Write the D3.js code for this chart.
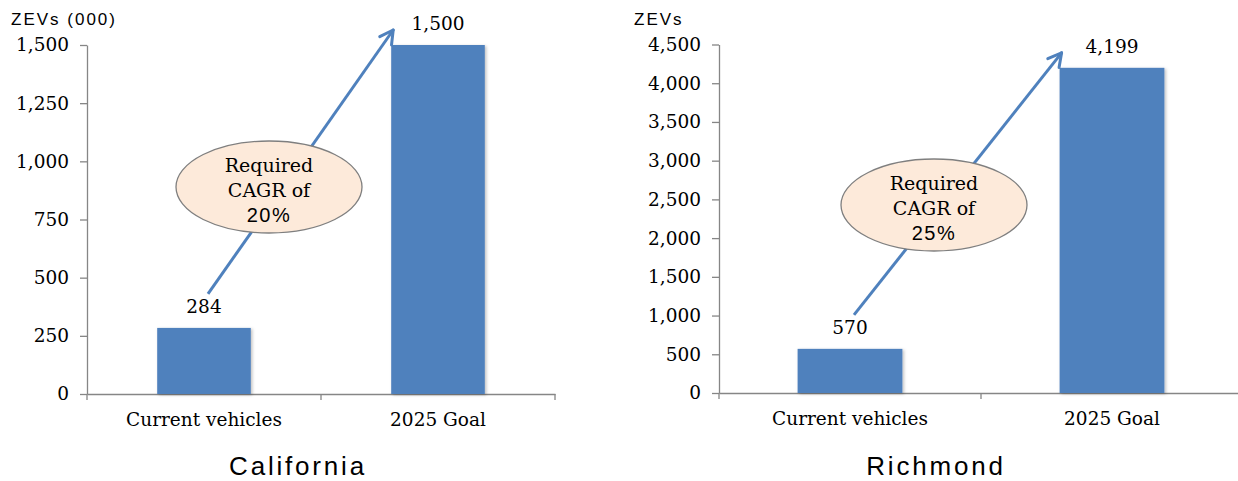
<!DOCTYPE html>
<html>
<head>
<meta charset="utf-8">
<script src="https://cdn.jsdelivr.net/npm/d3@7"></script>
<style>
  body { margin: 0; background: #fff; }
  svg { display: block; }
</style>
</head>
<body>
<div id="chart"></div>
<script>
// Chart data
const categories = ["Current vehicles", "2025 Goal"];
const californiaValues = [284, 1500];
const richmondValues = [570, 4199];
const californiaTicks = [0, 250, 500, 750, 1000, 1250, 1500];
const richmondTicks = [0, 500, 1000, 1500, 2000, 2500, 3000, 3500, 4000, 4500];
const panelTitles = ["California", "Richmond"];
const unitLabels = ["ZEVs (000)", "ZEVs"];
const cagrLabels = ["20%", "25%"];

const svg = d3.select("#chart")
  .append("svg")
  .attr("width", 1238)
  .attr("height", 481);

// soft shadow like the office bars
const defs = svg.append("defs");
defs.append("filter")
  .attr("id", "shadow")
  .attr("x", "-10%").attr("y", "-10%")
  .attr("width", "130%").attr("height", "130%")
  .append("feDropShadow")
  .attr("dx", 1.5).attr("dy", 1)
  .attr("stdDeviation", 1.5)
  .attr("flood-color", "#000")
  .attr("flood-opacity", 0.25);

const serif = "'DejaVu Serif', serif";
const sans = "'Liberation Sans', Arial, sans-serif";
const axisColor = "#868686";
const barColor = "#4F81BD";

function drawPanel(opts) {
  const g = svg.append("g");

  const x = d3.scaleBand()
    .domain(categories)
    .range([opts.left, opts.right])
    .padding(0);

  const y = d3.scaleLinear()
    .domain([0, d3.max(opts.ticks)])
    .range([opts.bottom, opts.top]);

  // y axis
  const yAxis = g.append("g")
    .attr("transform", `translate(${opts.left},0)`)
    .call(d3.axisLeft(y)
      .tickValues(opts.ticks)
      .tickFormat(d3.format(","))
      .tickSize(7)
      .tickSizeOuter(0)
      .tickPadding(11));
  yAxis.selectAll("path, line").attr("stroke", axisColor).attr("stroke-width", 1.3);
  yAxis.selectAll("text")
    .attr("font-family", serif)
    .attr("font-size", 18.5)
    .attr("fill", "#000");

  // x axis, ticks sit between categories
  const xAxis = g.append("g")
    .attr("transform", `translate(0,${opts.bottom})`)
    .call(d3.axisBottom(x).tickSize(0).tickSizeOuter(0));
  xAxis.select(".domain").attr("stroke", axisColor).attr("stroke-width", 1.3);
  xAxis.selectAll("text")
    .attr("y", 19)
    .attr("font-family", serif)
    .attr("font-size", 18.5)
    .attr("fill", "#000");

  const bounds = [opts.left].concat(categories.map(c => x(c) + x.bandwidth()));
  g.selectAll(".xtick")
    .data(bounds)
    .enter()
    .append("line")
    .attr("x1", d => d).attr("x2", d => d)
    .attr("y1", opts.bottom).attr("y2", opts.bottom + 6)
    .attr("stroke", axisColor)
    .attr("stroke-width", 1.3);

  // bars
  const barW = x.bandwidth() * 0.4;
  g.selectAll(".bar")
    .data(opts.values)
    .enter()
    .append("rect")
    .attr("x", (d, i) => x(categories[i]) + (x.bandwidth() - barW) / 2)
    .attr("y", d => y(d))
    .attr("width", barW)
    .attr("height", d => y(0) - y(d))
    .attr("fill", barColor)
    .attr("filter", "url(#shadow)");

  // value labels
  g.selectAll(".val")
    .data(opts.values)
    .enter()
    .append("text")
    .attr("x", (d, i) => x(categories[i]) + x.bandwidth() / 2)
    .attr("y", d => y(d) - 15)
    .attr("text-anchor", "middle")
    .attr("font-family", serif)
    .attr("font-size", 18.5)
    .text(d3.format(","));

  // growth arrow
  const x0 = x(categories[0]) + x.bandwidth() / 2 + 4;
  const y0 = y(opts.values[0]) - 34;
  const x1 = x(categories[1]) + (x.bandwidth() - barW) / 2 + 2;
  const y1 = y(opts.values[1]) - 15;
  g.append("line")
    .attr("x1", x0).attr("y1", y0)
    .attr("x2", x1).attr("y2", y1)
    .attr("stroke", barColor)
    .attr("stroke-width", 3);
  const ang = Math.atan2(y1 - y0, x1 - x0);
  [-0.5, 0.5].forEach(off => {
    g.append("line")
      .attr("x1", x1).attr("y1", y1)
      .attr("x2", x1 - 15 * Math.cos(ang + off))
      .attr("y2", y1 - 15 * Math.sin(ang + off))
      .attr("stroke", barColor)
      .attr("stroke-width", 3)
      .attr("stroke-linecap", "round");
  });

  // CAGR bubble
  const cx = opts.bubble[0], cy = opts.bubble[1];
  g.append("ellipse")
    .attr("cx", cx).attr("cy", cy)
    .attr("rx", 93).attr("ry", 46)
    .attr("fill", "#FDEADA")
    .attr("stroke", "#7F7F7F")
    .attr("stroke-width", 1.3);
  g.append("text")
    .attr("x", cx).attr("y", cy - 15)
    .attr("text-anchor", "middle")
    .attr("font-family", serif)
    .attr("font-size", 19)
    .text("Required");
  g.append("text")
    .attr("x", cx).attr("y", cy + 10)
    .attr("text-anchor", "middle")
    .attr("font-family", serif)
    .attr("font-size", 19)
    .text("CAGR of");
  g.append("text")
    .attr("x", cx).attr("y", cy + 35)
    .attr("text-anchor", "middle")
    .attr("font-family", sans)
    .attr("font-size", 20)
    .style("letter-spacing", "1.5px")
    .text(opts.cagr);

  // unit label and panel title
  g.append("text")
    .attr("x", opts.unitX).attr("y", 25)
    .attr("font-family", sans)
    .attr("font-size", 17)
    .style("letter-spacing", "2px")
    .text(opts.unit);

  g.append("text")
    .attr("x", opts.titleX).attr("y", 475)
    .attr("text-anchor", "middle")
    .attr("font-family", sans)
    .attr("font-size", 26)
    .style("letter-spacing", "2.8px")
    .text(opts.title);
}

drawPanel({
  left: 87, right: 555, top: 45, bottom: 394,
  values: californiaValues, ticks: californiaTicks,
  unit: unitLabels[0], unitX: 11,
  title: panelTitles[0], titleX: 298,
  cagr: cagrLabels[0], bubble: [269, 187]
});

drawPanel({
  left: 719, right: 1243, top: 44.5, bottom: 393,
  values: richmondValues, ticks: richmondTicks,
  unit: unitLabels[1], unitX: 634,
  title: panelTitles[1], titleX: 936,
  cagr: cagrLabels[1], bubble: [934, 205]
});
</script>
</body>
</html>
